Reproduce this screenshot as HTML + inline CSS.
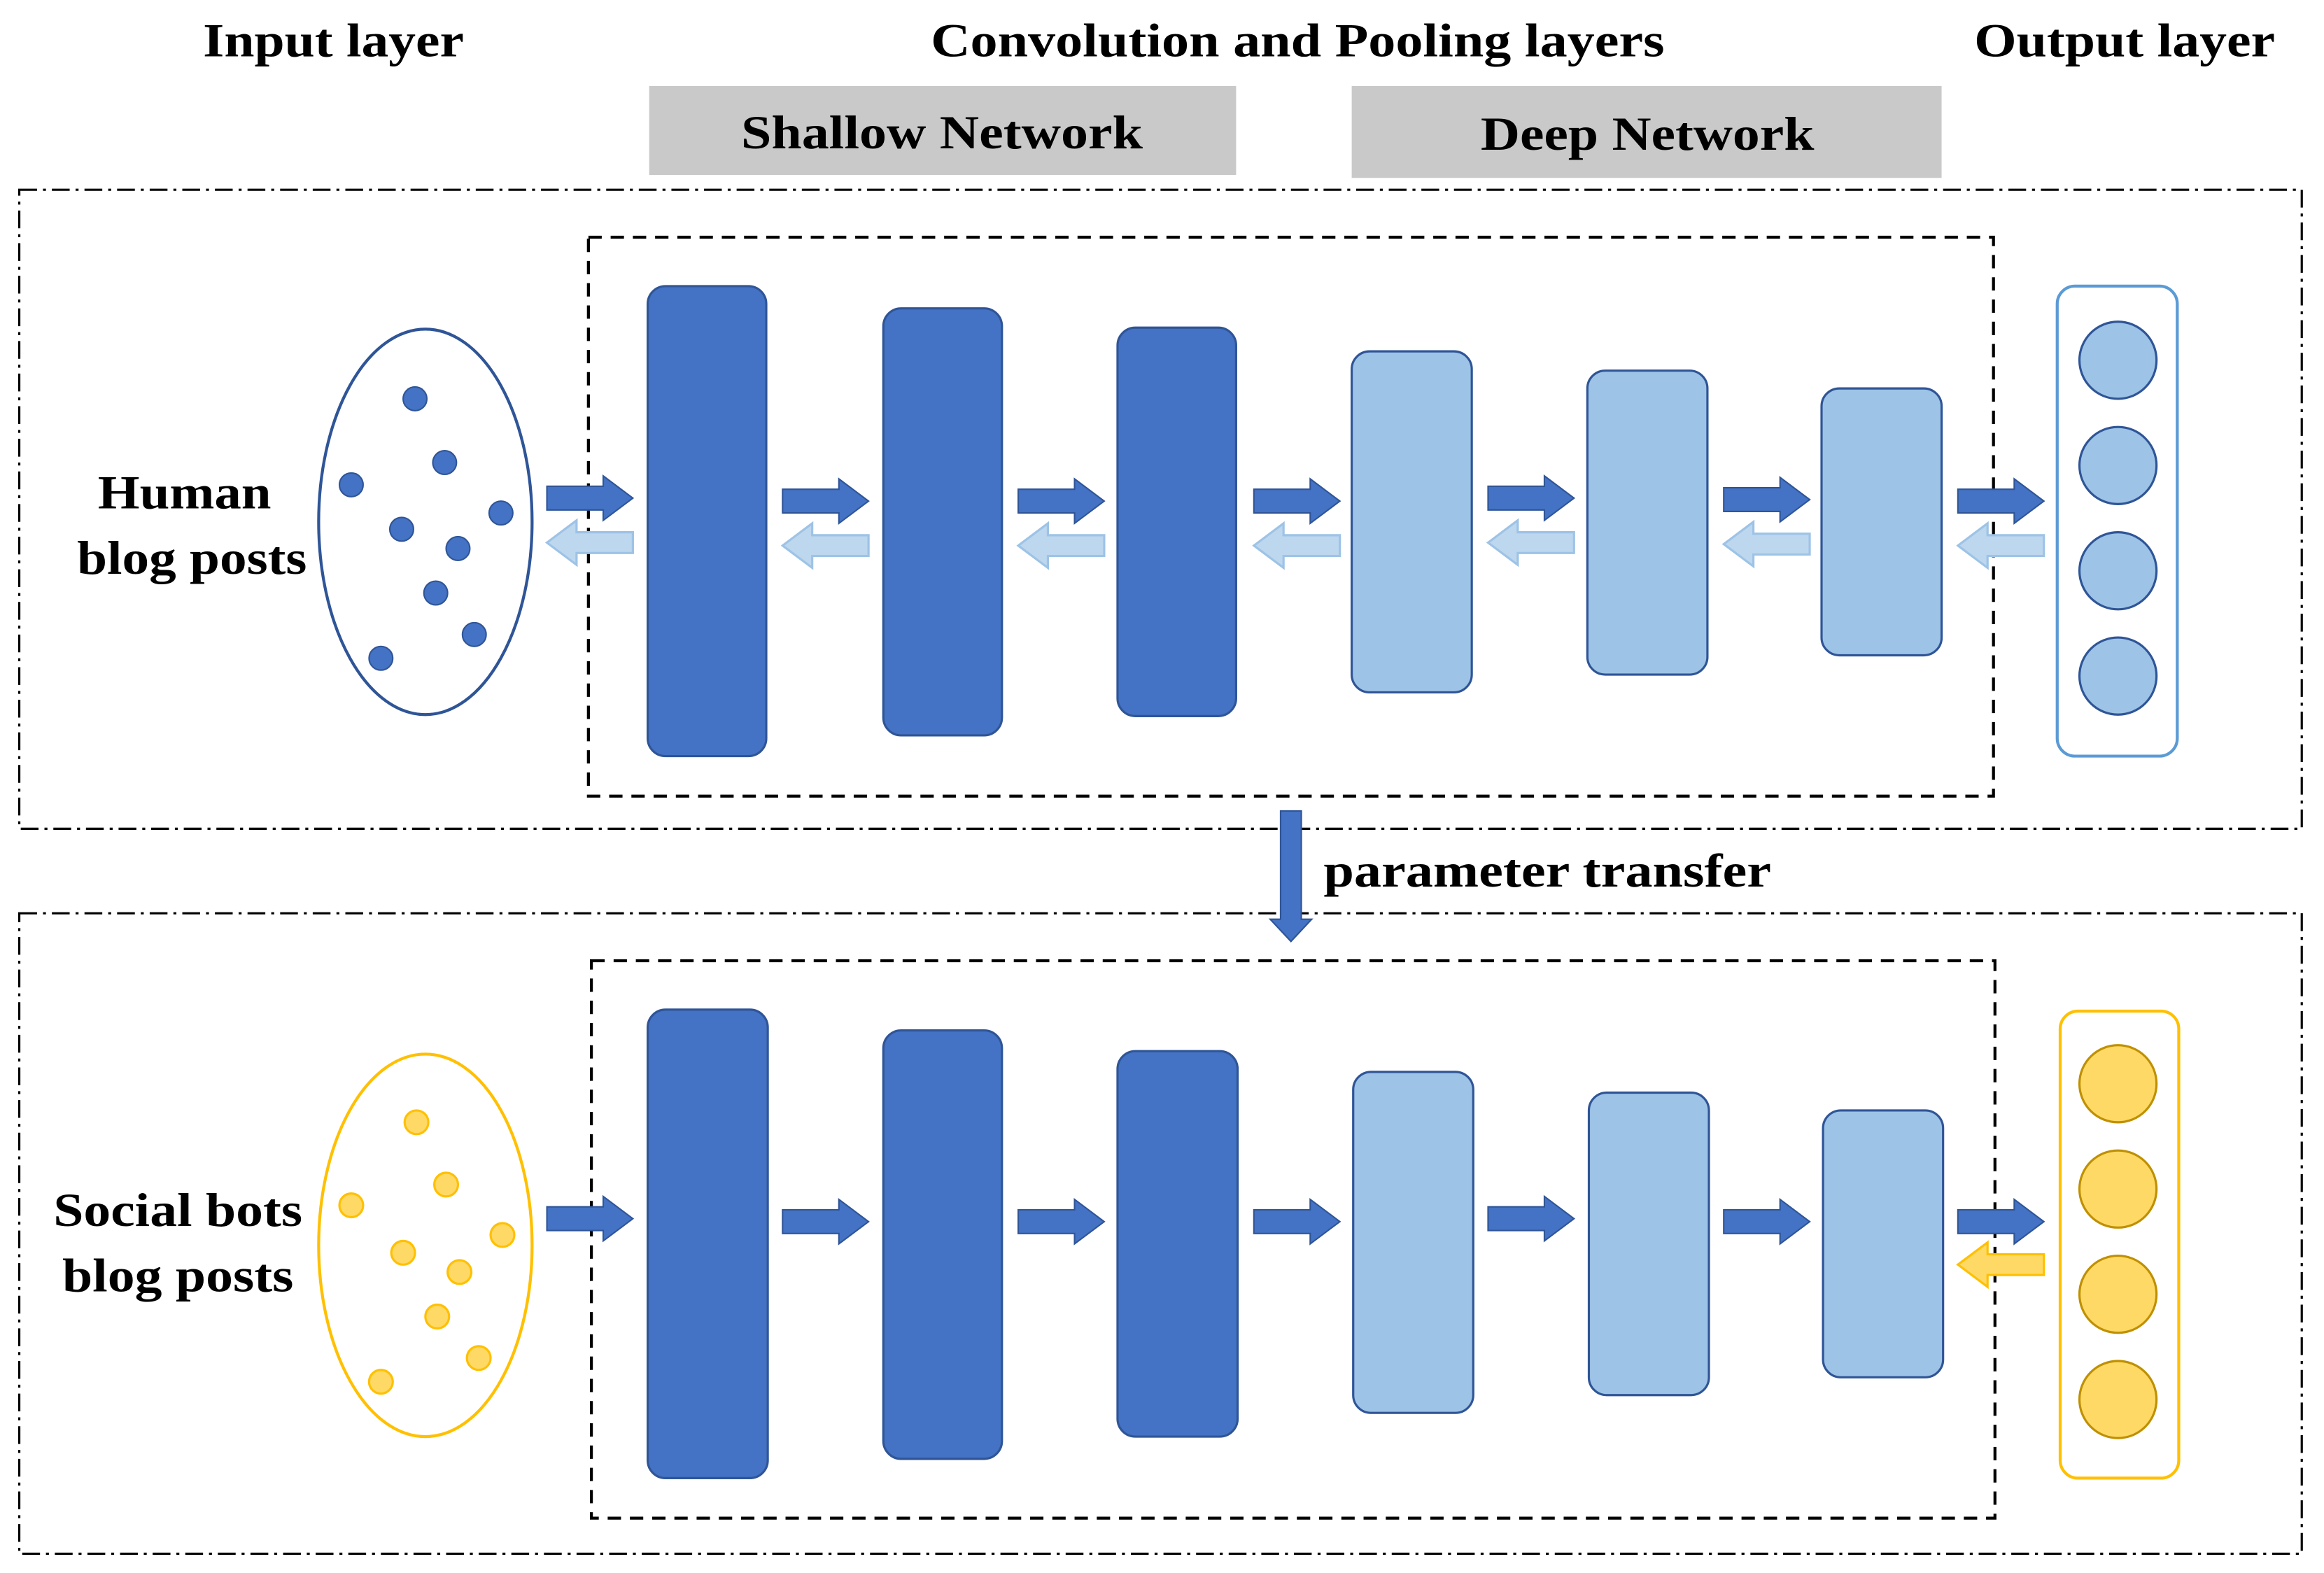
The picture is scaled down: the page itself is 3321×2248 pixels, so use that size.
<!DOCTYPE html>
<html><head><style>html,body{margin:0;padding:0;background:#fff}svg{display:block}</style></head><body>
<svg width="3321" height="2248" viewBox="0 0 1568 1061" preserveAspectRatio="none" xmlns="http://www.w3.org/2000/svg">
<defs>
<g id="fa"><path d="M0,-8 H38 V-15 L58,0 L38,15 V8 H0 Z" fill="#4472c4" stroke="#2f5597" stroke-width="1"/></g>
<g id="ba"><path d="M58,-7 H20 V-15 L0,0 L20,15 V7 H58 Z" fill="#bdd7ee" stroke="#9dc3e6" stroke-width="1.5"/></g>
<g id="ya"><path d="M58,-7 H20 V-15 L0,0 L20,15 V7 H58 Z" fill="#ffd966" stroke="#ffc000" stroke-width="1.5"/></g>
</defs>
<g font-family="Liberation Serif, serif" font-weight="bold" font-size="32" fill="#000" lengthAdjust="spacingAndGlyphs">
<text x="137" y="38" textLength="176" lengthAdjust="spacingAndGlyphs">Input layer</text>
<text x="628" y="38" textLength="495" lengthAdjust="spacingAndGlyphs">Convolution and Pooling layers</text>
<text x="1332" y="38" textLength="203" lengthAdjust="spacingAndGlyphs">Output layer</text>
</g>
<rect x="438" y="58" width="396" height="60" fill="#c9c9c9"/>
<rect x="912" y="58" width="398" height="62" fill="#c9c9c9"/>
<g font-family="Liberation Serif, serif" font-weight="bold" font-size="32">
<text x="500" y="100" textLength="271" lengthAdjust="spacingAndGlyphs">Shallow Network</text>
<text x="999" y="101" textLength="225" lengthAdjust="spacingAndGlyphs">Deep Network</text>
</g>
<g fill="none" stroke="#000" stroke-width="1.5">
<rect x="13" y="128" width="1540" height="431" stroke-dasharray="12,4,2,4"/>
<rect x="13" y="616" width="1540" height="432" stroke-dasharray="12,4,2,4"/>
<rect x="397" y="160" width="948" height="377" stroke-dasharray="9,6" stroke-width="2"/>
<rect x="399" y="648" width="947" height="376" stroke-dasharray="9,6" stroke-width="2"/>
</g>
<g stroke="#2f5597" stroke-width="1.5">
<rect x="437" y="193" width="80" height="317" rx="12" fill="#4472c4"/>
<rect x="596" y="208" width="80" height="288" rx="12" fill="#4472c4"/>
<rect x="754" y="221" width="80" height="262" rx="12" fill="#4472c4"/>
<rect x="912" y="237" width="81" height="230" rx="12" fill="#9dc3e6"/>
<rect x="1071" y="250" width="81" height="205" rx="12" fill="#9dc3e6"/>
<rect x="1229" y="262" width="81" height="180" rx="12" fill="#9dc3e6"/>
<rect x="437" y="681" width="81" height="316" rx="12" fill="#4472c4"/>
<rect x="596" y="695" width="80" height="289" rx="12" fill="#4472c4"/>
<rect x="754" y="709" width="81" height="260" rx="12" fill="#4472c4"/>
<rect x="913" y="723" width="81" height="230" rx="12" fill="#9dc3e6"/>
<rect x="1072" y="737" width="81" height="204" rx="12" fill="#9dc3e6"/>
<rect x="1230" y="749" width="81" height="180" rx="12" fill="#9dc3e6"/>
</g>
<use href="#fa" x="369" y="336"/><use href="#ba" x="369" y="366"/>
<use href="#fa" x="528" y="338"/><use href="#ba" x="528" y="368"/>
<use href="#fa" x="687" y="338"/><use href="#ba" x="687" y="368"/>
<use href="#fa" x="846" y="338"/><use href="#ba" x="846" y="368"/>
<use href="#fa" x="1004" y="336"/><use href="#ba" x="1004" y="366"/>
<use href="#fa" x="1163" y="337"/><use href="#ba" x="1163" y="367"/>
<use href="#fa" x="1321" y="338"/><use href="#ba" x="1321" y="368"/>
<use href="#fa" x="369" y="822"/>
<use href="#fa" x="528" y="824"/>
<use href="#fa" x="687" y="824"/>
<use href="#fa" x="846" y="824"/>
<use href="#fa" x="1004" y="822"/>
<use href="#fa" x="1163" y="824"/>
<use href="#fa" x="1321" y="824"/><use href="#ya" x="1321" y="853"/>
<ellipse cx="287" cy="352" rx="72" ry="130" fill="#fff" stroke="#2f5597" stroke-width="2"/>
<g fill="#4472c4" stroke="#2f5597">
<circle cx="280" cy="269" r="8"/><circle cx="300" cy="312" r="8"/><circle cx="237" cy="327" r="8"/>
<circle cx="338" cy="346" r="8"/><circle cx="271" cy="357" r="8"/><circle cx="309" cy="370" r="8"/>
<circle cx="294" cy="400" r="8"/><circle cx="320" cy="428" r="8"/><circle cx="257" cy="444" r="8"/>
</g>
<ellipse cx="287" cy="840" rx="72" ry="129" fill="#fff" stroke="#ffc000" stroke-width="2"/>
<g fill="#ffd966" stroke="#ffc000" stroke-width="1.5">
<circle cx="281" cy="757" r="8"/><circle cx="301" cy="799" r="8"/><circle cx="237" cy="813" r="8"/>
<circle cx="339" cy="833" r="8"/><circle cx="272" cy="845" r="8"/><circle cx="310" cy="858" r="8"/>
<circle cx="295" cy="888" r="8"/><circle cx="323" cy="916" r="8"/><circle cx="257" cy="932" r="8"/>
</g>
<rect x="1388" y="193" width="81" height="317" rx="12" fill="#fff" stroke="#5b9bd5" stroke-width="2"/>
<g fill="#9dc3e6" stroke="#2f5597" stroke-width="1.5">
<circle cx="1429" cy="243" r="26"/><circle cx="1429" cy="314" r="26"/><circle cx="1429" cy="385" r="26"/><circle cx="1429" cy="456" r="26"/>
</g>
<rect x="1390" y="682" width="80" height="315" rx="12" fill="#fff" stroke="#ffc000" stroke-width="2"/>
<g fill="#ffd966" stroke="#bf9000" stroke-width="1.5">
<circle cx="1429" cy="731" r="26"/><circle cx="1429" cy="802" r="26"/><circle cx="1429" cy="873" r="26"/><circle cx="1429" cy="944" r="26"/>
</g>
<g font-family="Liberation Serif, serif" font-weight="bold" font-size="32">
<text x="66" y="343" textLength="117" lengthAdjust="spacingAndGlyphs">Human</text>
<text x="52" y="387" textLength="155" lengthAdjust="spacingAndGlyphs">blog posts</text>
<text x="36" y="827" textLength="168" lengthAdjust="spacingAndGlyphs">Social bots</text>
<text x="42" y="871" textLength="156" lengthAdjust="spacingAndGlyphs">blog posts</text>
</g>
<path d="M864,547 H878 V620 H885 L871,635 L857,620 H864 Z" fill="#4472c4" stroke="#2f5597"/>
<text x="893" y="598" font-family="Liberation Serif, serif" font-weight="bold" font-size="32" textLength="302" lengthAdjust="spacingAndGlyphs">parameter transfer</text>
</svg>
</body></html>
